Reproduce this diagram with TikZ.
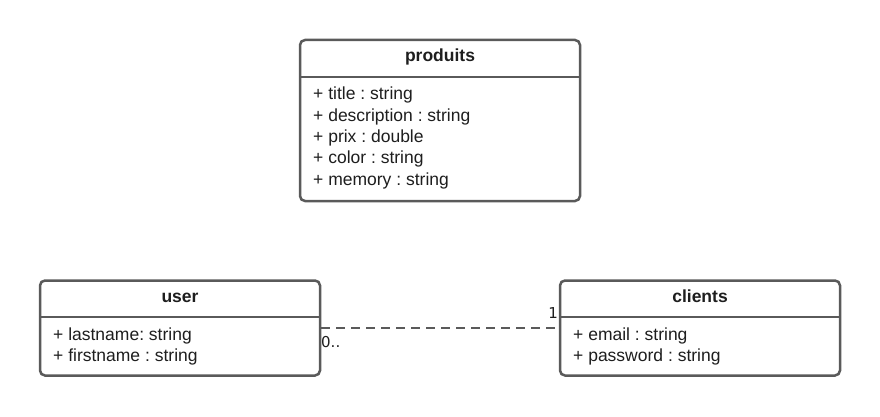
\documentclass[tikz,border=0pt]{standalone}
\usepackage{fontspec}
\setmainfont{Liberation Sans}
\newfontfamily\dejavu{DejaVu Sans}
\definecolor{linegray}{RGB}{90,90,90}
\definecolor{txt}{RGB}{30,30,30}
\frenchspacing
\begin{document}
\begin{tikzpicture}[x=1pt,y=-1pt,
  umlbox/.style={draw=linegray, line width=2.5pt, rounded corners=5pt, minimum width=280pt, inner sep=0pt, fill=white},
  umltitle/.style={font=\bfseries\fontsize{17.5}{21}\selectfont, text=txt, anchor=base, inner sep=0pt},
  umlattr/.style={font=\frenchspacing\fontsize{17.5}{21}\selectfont, text=txt, anchor=base west, inner sep=0pt},
  mult/.style={font=\dejavu\fontsize{15}{18}\selectfont, text=txt, inner sep=0pt},
  divider/.style={draw=linegray, line width=2.5pt},
  assoc/.style={draw=linegray, line width=1.8pt, dash pattern=on 9pt off 6pt}
]
\useasboundingbox (0,0) rectangle (880,417);

% produits
\node[umlbox, minimum height=161pt] (produits) at (440,120.5) {};
\draw[divider] (300,77) -- (580,77);
\node[umltitle] (produitsT) at (440,62) {produits};
\node[umlattr] (p1) at (313,100) {+ title : string};
\node[umlattr] (p2) at (313,121.3) {+ description : string};
\node[umlattr] (p3) at (313,142.6) {+ prix : double};
\node[umlattr] (p4) at (313,163.9) {+ color : string};
\node[umlattr] (p5) at (313,185.2) {+ memory : string};

% user
\node[umlbox, minimum height=95pt] (user) at (180,328) {};
\draw[divider] (40,317) -- (320,317);
\node[umltitle] (userT) at (180,302) {user};
\node[umlattr] (u1) at (53,340) {+ lastname: string};
\node[umlattr] (u2) at (53,361.3) {+ firstname : string};

% clients
\node[umlbox, minimum height=95pt] (clients) at (700,328) {};
\draw[divider] (560,317) -- (840,317);
\node[umltitle] (clientsT) at (700,302) {clients};
\node[umlattr] (c1) at (573,340) {+ email : string};
\node[umlattr] (c2) at (573,361.3) {+ password : string};

% association
\draw[assoc] (user) -- (clients);
\node[mult, anchor=base east] (m1) at (558,318) {1};
\node[mult, anchor=base west] (m0) at (321,347) {0..};
\end{tikzpicture}
\end{document}
